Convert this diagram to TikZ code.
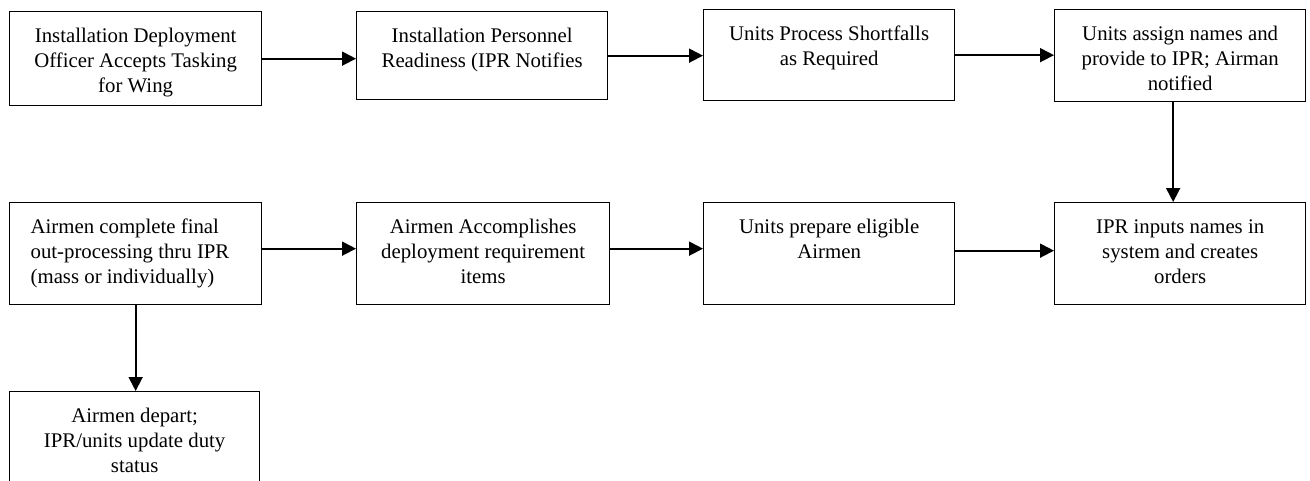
\documentclass[tikz,border=0pt]{standalone}
\usepackage{fontspec}
\setmainfont{Liberation Serif}
\usetikzlibrary{arrows.meta}
\newcommand{\bt}[4][\centering]{\parbox[c][#3pt][t]{#2pt}{\vskip 13pt #1\strut #4\par}}
\begin{document}
\begin{tikzpicture}[x=1pt,y=-1pt,
  box/.style={draw, line width=1.3pt, inner sep=0pt, anchor=north west,
    font=\fontsize{20.8pt}{25pt}\selectfont},
  arr/.style={line width=1.8pt, -{Triangle[length=14pt,width=14pt]}}]
\useasboundingbox (0,0) rectangle (1310,480);
\node[box] (b1) at (9,11)    {\bt{252}{94}{Installation Deployment\\Officer Accepts Tasking\\for Wing}};
\node[box] (b2) at (356,11)  {\bt{251}{88}{Installation Personnel\\Readiness (IPR Notifies}};
\node[box] (b3) at (703,9)   {\bt{251}{91}{Units Process Shortfalls\\as Required}};
\node[box] (b4) at (1054,9)  {\bt{251}{92}{Units assign names and\\provide to IPR; Airman\\notified}};
\node[box] (b5) at (9,202)   {\bt[\raggedright\leftskip=21pt]{252}{102}{Airmen complete final\\out-processing thru IPR\\(mass or individually)}};
\node[box] (b6) at (356,202) {\bt{253}{102}{Airmen Accomplishes\\deployment requirement\\items}};
\node[box] (b7) at (703,202) {\bt{251}{102}{Units prepare eligible\\Airmen}};
\node[box] (b8) at (1054,202){\bt{251}{102}{IPR inputs names in\\system and creates\\orders}};
\node[box] (b9) at (9,391)   {\bt{250}{94}{Airmen depart;\\IPR/units update duty\\status}};
\draw[arr] (b1.east) -- (b1.east -| b2.west);
\draw[arr] (b2.east) -- (b2.east -| b3.west);
\draw[arr] (b3.east) -- (b3.east -| b4.west);
\draw[arr] ([xshift=-7pt]b4.south) -- ([xshift=-7pt]b4.south |- b8.north);
\draw[arr] ([yshift=5pt]b5.east) -- ([yshift=5pt]b5.east -| b6.west);
\draw[arr] ([yshift=5pt]b6.east) -- ([yshift=5pt]b6.east -| b7.west);
\draw[arr] ([yshift=3pt]b7.east) -- ([yshift=3pt]b7.east -| b8.west);
\draw[arr] (b5.south) -- (b5.south |- b9.north);
\end{tikzpicture}
\end{document}
